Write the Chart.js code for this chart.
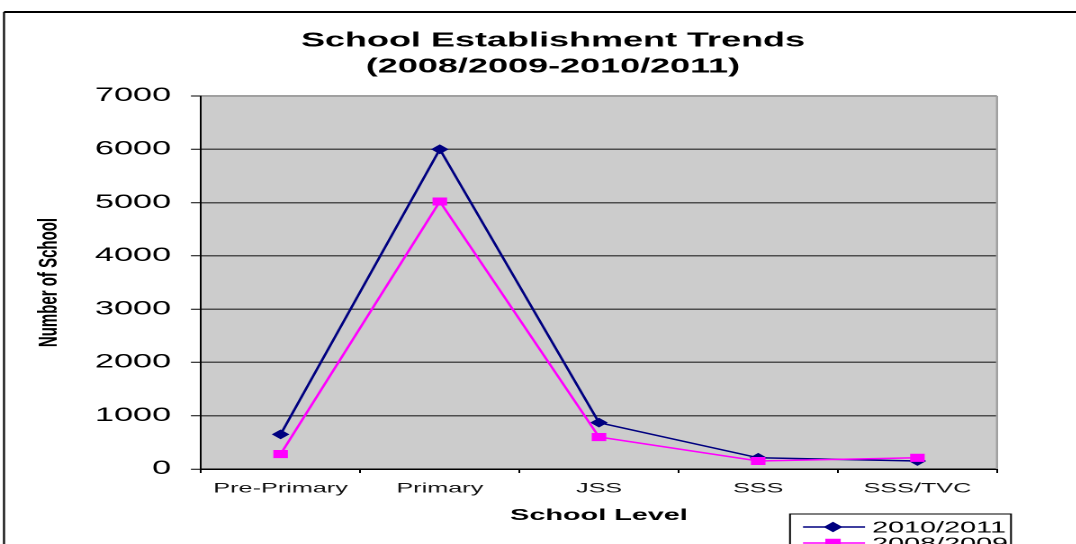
<!DOCTYPE html>
<html><head><meta charset="utf-8">
<script src="https://cdn.jsdelivr.net/npm/chart.js@4"></script>
<style>
html,body{margin:0;padding:0;background:#fff;overflow:hidden;width:1076px;height:544px;}
#wrap{position:absolute;left:0;top:0;width:598px;height:544px;transform:scaleX(1.8);transform-origin:0 0;}
</style></head><body>
<div id="wrap"><canvas id="c"></canvas></div>
<script>
// ---- data ----
const categories = ['Pre-Primary', 'Primary', 'JSS', 'SSS', 'SSS/TVC'];
const seriesLabels = ['2010/2011', '2008/2009'];
const values2010 = [650, 6000, 870, 210, 150];
const values2008 = [280, 5020, 600, 150, 210];
const yMin = 0;
const yMax = 7000;
const yStep = 1000;
const titleLines = ['School Establishment Trends', '(2008/2009-2010/2011)'];
const xTitle = 'School Level';
const yTitle = 'Number of School';

// ---- layout helpers (page is stretched horizontally like the original) ----
const SX = 1.8;
const X = v => v / SX;
const FONT = '"Liberation Sans", Arial, Helvetica, sans-serif';
Chart.defaults.font.family = FONT;

const frame = {
  id: 'frame',
  beforeDraw(chart) {
    const {ctx, chartArea: a} = chart;
    ctx.save();
    ctx.fillStyle = '#ffffff';
    ctx.fillRect(0, 0, chart.width, chart.height);
    // outer border
    ctx.strokeStyle = '#000';
    ctx.lineWidth = 2;
    ctx.beginPath(); ctx.moveTo(X(4), 12); ctx.lineTo(chart.width + 5, 12); ctx.stroke();
    ctx.lineWidth = 1.1;
    ctx.beginPath(); ctx.moveTo(X(4), 12); ctx.lineTo(X(4), chart.height + 5); ctx.stroke();
    // plot background
    ctx.fillStyle = '#cccccc';
    ctx.fillRect(a.left, a.top, a.right - a.left, a.bottom - a.top);
    ctx.restore();
  },
  beforeDatasetsDraw(chart) {
    const {ctx, chartArea: a} = chart;
    ctx.save();
    ctx.strokeStyle = '#a0a0a0';
    ctx.lineWidth = 1.2;
    ctx.beginPath(); ctx.moveTo(a.right, a.top); ctx.lineTo(a.right, a.bottom); ctx.stroke();
    ctx.restore();
  },
  afterDraw(chart) {
    const ctx = chart.ctx;
    ctx.save();
    // title
    ctx.fillStyle = '#000';
    ctx.font = 'bold 20px ' + FONT;
    ctx.textAlign = 'center';
    ctx.textBaseline = 'middle';
    ctx.fillText(titleLines[0], X(553), 41);
    ctx.fillText(titleLines[1], X(553), 67);
    // legend
    const bx = X(790), by = 514;
    ctx.fillStyle = '#fff';
    ctx.fillRect(bx, by, X(1011) - bx, 60);
    ctx.strokeStyle = '#000';
    ctx.lineWidth = 1;
    ctx.strokeRect(bx, by, X(1011) - bx, 60);
    chart.data.datasets.forEach((ds, i) => {
      const y = 527 + i * 16;
      ctx.strokeStyle = ds.borderColor;
      ctx.lineWidth = 1.5;
      ctx.beginPath(); ctx.moveTo(X(803), y); ctx.lineTo(X(865), y); ctx.stroke();
      ctx.fillStyle = ds.pointBackgroundColor;
      ctx.strokeStyle = ds.borderColor;
      Chart.helpers.drawPoint(ctx, {pointStyle: ds.pointStyle, radius: ds.pointRadius, rotation: 0, borderWidth: 1}, X(833), y);
      ctx.fillStyle = '#000';
      ctx.font = '16px ' + FONT;
      ctx.textAlign = 'left';
      ctx.textBaseline = 'middle';
      ctx.fillText(ds.label, X(872), y + 1);
    });
    ctx.restore();
  }
};

new Chart(document.getElementById('c'), {
  type: 'line',
  data: {
    labels: categories,
    datasets: [
      {
        label: seriesLabels[0], data: values2010, order: 1,
        borderColor: '#000080', backgroundColor: '#000080', pointBackgroundColor: '#000080',
        borderWidth: 1.5, pointStyle: 'rectRot', pointRadius: 4.2, pointBorderWidth: 1, tension: 0
      },
      {
        label: seriesLabels[1], data: values2008, order: 0,
        borderColor: '#ff00ff', backgroundColor: '#ff00ff', pointBackgroundColor: '#ff00ff',
        borderWidth: 1.5, pointStyle: 'rect', pointRadius: 5, pointBorderWidth: 1, tension: 0
      }
    ]
  },
  options: {
    responsive: true,
    maintainAspectRatio: false,
    devicePixelRatio: 2,
    animation: false,
    layout: {padding: {left: 0, right: 598 - X(997), top: 96, bottom: 0}},
    plugins: {legend: {display: false}, title: {display: false}, tooltip: {enabled: false}},
    scales: {
      x: {
        offset: true,
        grid: {display: true, drawOnChartArea: false, drawTicks: true, tickLength: 4, tickColor: '#000', tickWidth: 1, offset: true},
        border: {color: '#000', width: 1.5},
        ticks: {color: '#111', font: {size: 14}, padding: 7, maxRotation: 0, autoSkip: false},
        title: {display: true, text: xTitle, color: '#000', font: {size: 16, weight: 'bold'}, padding: {top: 0, bottom: 19}},
        afterFit: s => { s.height = 75; }
      },
      y: {
        min: yMin, max: yMax,
        ticks: {stepSize: yStep, padding: 11, color: '#000', font: {size: 19}, callback: v => String(v)},
        grid: {
          color: c => (c.tick && c.tick.value === yMax) ? '#a0a0a0' : '#4d4d4d',
          lineWidth: c => (c.tick && c.tick.value === yMax) ? 2 : 1.5,
          tickColor: '#000', tickWidth: 1, tickLength: 5.6, drawTicks: true
        },
        border: {color: '#000', width: 1},
        title: {display: true, text: yTitle, color: '#000', font: {size: 15, weight: 'bold'}, padding: {top: 18.5, bottom: 0}},
        afterFit: s => { s.width = X(201); }
      }
    }
  },
  plugins: [frame]
});
</script>
</body></html>
